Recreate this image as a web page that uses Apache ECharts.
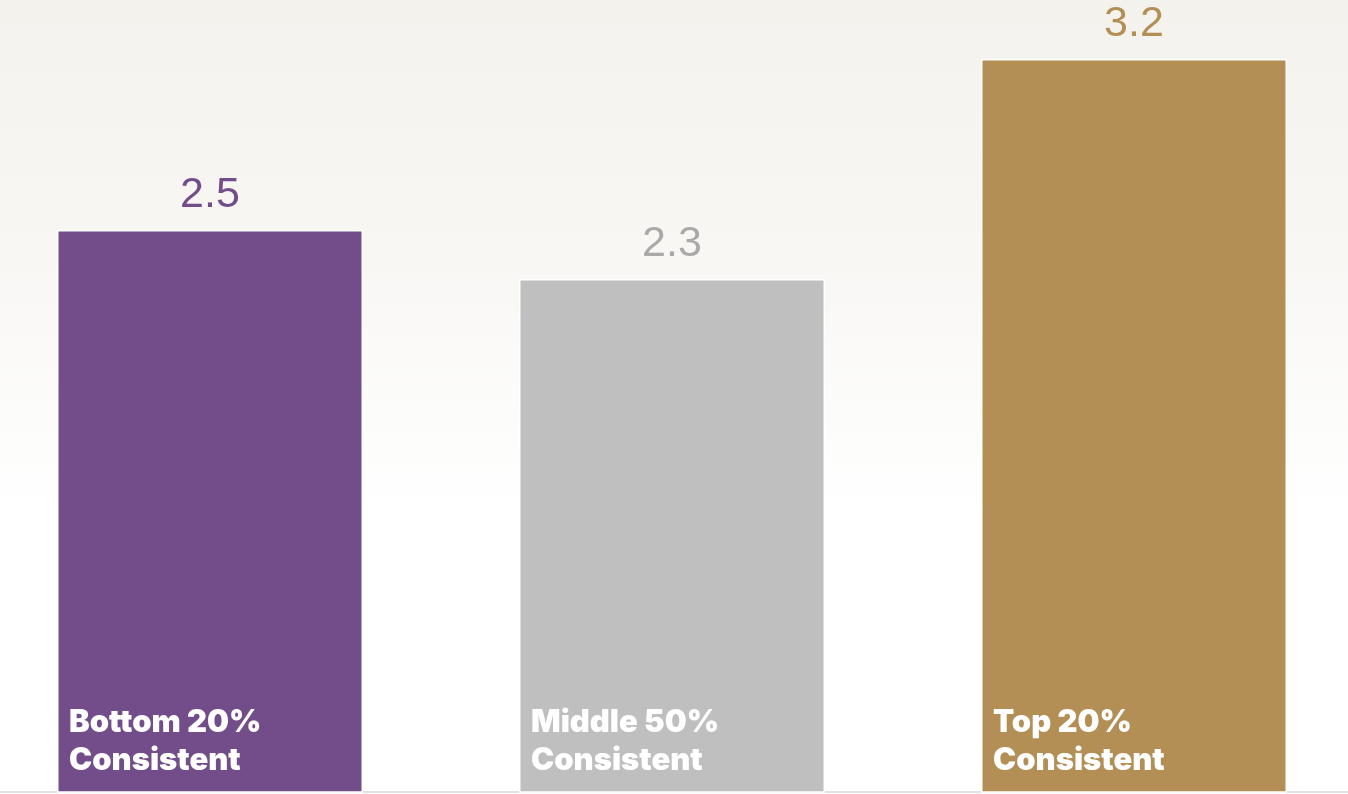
<!DOCTYPE html>
<html>
<head>
<meta charset="utf-8">
<script src="https://cdn.jsdelivr.net/npm/echarts@6/dist/echarts.min.js"></script>
<style>
html,body{margin:0;padding:0;background:#fff;}
#chart{width:1348px;height:794px;}
</style>
</head>
<body>
<div id="chart"></div>
<script>
const categories = ['Bottom 20%\nConsistent', 'Middle 50%\nConsistent', 'Top 20%\nConsistent'];
const values = [2.5, 2.3, 3.2];
const barColors = ['#734d8a', '#bfbfbf', '#b38f55'];
const valueLabelColors = ['#734d8a', '#a9a9a9', '#b38f55'];

const chart = echarts.init(document.getElementById('chart'), null, {renderer: 'canvas'});
chart.setOption({
  backgroundColor: {
    type: 'linear', x: 0, y: 0, x2: 0, y2: 1,
    colorStops: [
      {offset: 0, color: '#f4f2ed'},
      {offset: 0.32, color: '#f8f7f4'},
      {offset: 0.65, color: '#ffffff'},
      {offset: 1, color: '#ffffff'}
    ]
  },
  animation: false,
  grid: {left: -21, width: 1386, top: 59, bottom: 2, outerBoundsMode: 'none', containLabel: false},
  xAxis: {
    type: 'category',
    data: categories,
    axisLine: {show: true, lineStyle: {color: '#e2e2e2', width: 2}},
    axisTick: {show: false},
    axisLabel: {show: false}
  },
  yAxis: {
    type: 'value',
    min: 0.2,
    max: 3.2,
    show: false,
    splitLine: {show: false}
  },
  series: [
    {
      type: 'bar',
      barWidth: 306,
      data: values.map((v, i) => ({
        value: v,
        itemStyle: {color: barColors[i], borderColor: '#ffffff', borderWidth: 1.5},
        label: {color: valueLabelColors[i]}
      })),
      label: {
        show: true,
        position: 'top',
        distance: 13,
        fontFamily: 'Liberation Sans, Arial, sans-serif',
        fontSize: 43,
        fontWeight: 'normal',
        formatter: p => p.value.toFixed(1)
      },
      z: 2
    },
    {
      type: 'bar',
      barWidth: 306,
      barGap: '-100%',
      data: values,
      itemStyle: {color: 'rgba(0,0,0,0)'},
      silent: true,
      label: {
        show: true,
        position: 'insideBottomLeft',
        distance: 10,
        offset: [2, -2],
        color: '#ffffff',
        fontFamily: 'Inter, Roboto, sans-serif',
        fontWeight: 900,
        fontSize: 31,
        lineHeight: 38,
        formatter: p => categories[p.dataIndex]
      },
      z: 3
    }
  ]
});
</script>
</body>
</html>
